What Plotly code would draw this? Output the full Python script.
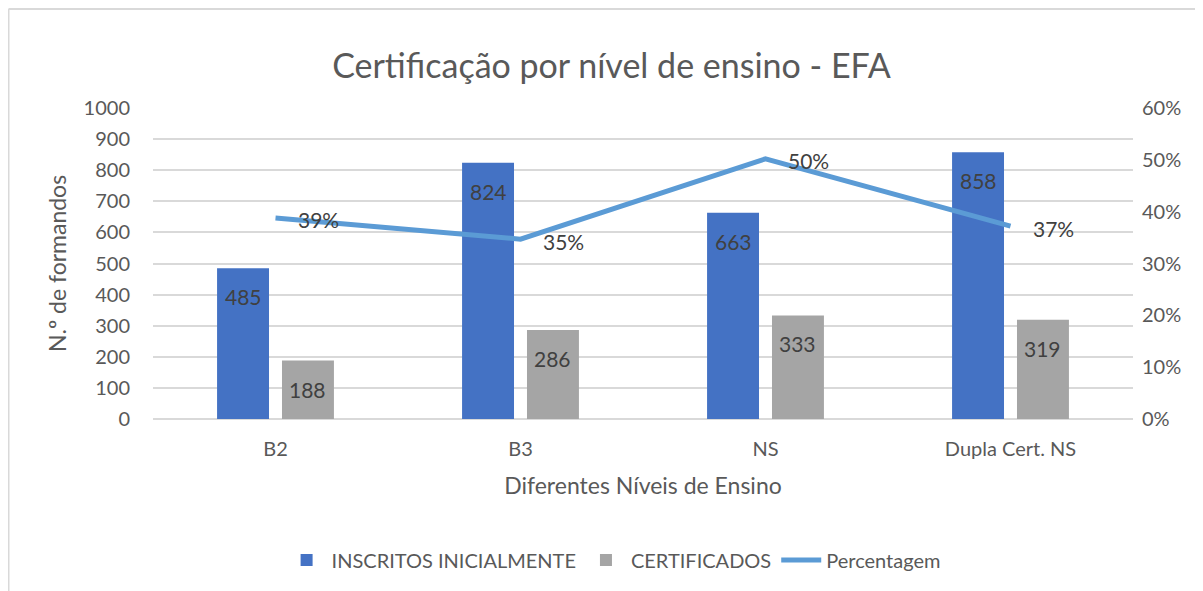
import plotly.graph_objects as go

categories = ["B2", "B3", "NS", "Dupla Cert. NS"]
inscritos = [485, 824, 663, 858]
certificados = [188, 286, 333, 319]
percentagem = [0.388, 0.347, 0.502, 0.372]
pct_labels = ["39%", "35%", "50%", "37%"]

FONT = "Lato"
TXT = "#595959"
LBL = "#404040"
BLUE = "#4472C4"
GRAY = "#A5A5A5"
LINE = "#5B9BD5"

BARGAP = 0.47
BARGROUPGAP = 0.2

# page has an 8px body margin; figure is sized to fill the rest of the window
W, H = 1195, 583
L, R, T, B = 145, 70, 100, 172
PH = H - T - B

fig = go.Figure()
fig.add_trace(go.Bar(x=categories, y=inscritos, name="INSCRITOS INICIALMENTE",
                     marker=dict(color=BLUE, line=dict(width=0)), yaxis="y"))
fig.add_trace(go.Bar(x=categories, y=certificados, name="CERTIFICADOS",
                     marker=dict(color=GRAY, line=dict(width=0)), yaxis="y"))
fig.add_trace(go.Scatter(x=categories, y=percentagem, name="Percentagem", mode="lines",
                         line=dict(color=LINE, width=5), yaxis="y2"))

annotations = []
slot_off = (1 - BARGAP) / 4
for i, (a, c) in enumerate(zip(inscritos, certificados)):
    annotations.append(dict(x=i - slot_off, y=a, xref="x", yref="y", text=str(a),
                            showarrow=False, yanchor="top", yshift=-14,
                            font=dict(family=FONT, size=21, color=LBL)))
    annotations.append(dict(x=i + slot_off, y=c, xref="x", yref="y", text=str(c),
                            showarrow=False, yanchor="top", yshift=-14,
                            font=dict(family=FONT, size=21, color=LBL)))
for i, (p, t) in enumerate(zip(percentagem, pct_labels)):
    annotations.append(dict(x=i, y=p, xref="x", yref="y2", text=t, showarrow=False,
                            xanchor="left", xshift=20, yshift=-2,
                            font=dict(family=FONT, size=21, color=LBL)))

# outer border (left and top visible)
x_left = (0.5 - L) / (W - L - R)
y_top = 1 + (T - 1) / PH
shapes = [
    dict(type="line", xref="paper", yref="paper", x0=x_left, x1=2, y0=y_top, y1=y_top,
         line=dict(color="#D9D9D9", width=2)),
    dict(type="line", xref="paper", yref="paper", x0=x_left, x1=x_left, y0=y_top, y1=-2,
         line=dict(color="#D9D9D9", width=2)),
]

fig.update_layout(
    width=W, height=H,
    margin=dict(l=L, r=R, t=T, b=B),
    paper_bgcolor="white", plot_bgcolor="white",
    font=dict(family=FONT, color=TXT, size=20),
    title=dict(text="Certificação por nível de ensino - EFA", x=0.505, xanchor="center",
               y=1 - 58 / H, yanchor="middle", font=dict(family=FONT, size=34, color=TXT)),
    barmode="group", bargap=BARGAP, bargroupgap=BARGROUPGAP,
    xaxis=dict(type="category", showgrid=False, showline=False, ticks="",
               ticklabelstandoff=16,
               tickfont=dict(family=FONT, size=20, color=TXT),
               title=dict(text="Diferentes Níveis de Ensino", standoff=18,
                          font=dict(family=FONT, size=23, color=TXT))),
    yaxis=dict(range=[0, 1000], dtick=100, showgrid=True, gridcolor="#D9D9D9", gridwidth=1.5,
               zeroline=True, zerolinecolor="#D9D9D9", zerolinewidth=1.5, showline=False,
               ticks="", ticklabelstandoff=22, tickfont=dict(family=FONT, size=20, color=TXT),
               title=dict(text="N.º de formandos", standoff=10,
                          font=dict(family=FONT, size=23, color=TXT))),
    yaxis2=dict(range=[0, 0.6], dtick=0.1, tickformat=".0%", overlaying="y", side="right",
                showgrid=False, zeroline=False, showline=False, ticklabelstandoff=8,
                tickfont=dict(family=FONT, size=20, color=TXT)),
    legend=dict(orientation="h", x=0.47, xanchor="center", y=(T + PH - 552) / PH,
                yanchor="middle", itemwidth=40,
                font=dict(family=FONT, size=20, color=TXT), traceorder="normal"),
    annotations=annotations,
    shapes=shapes,
)

fig.write_html("out.html")
